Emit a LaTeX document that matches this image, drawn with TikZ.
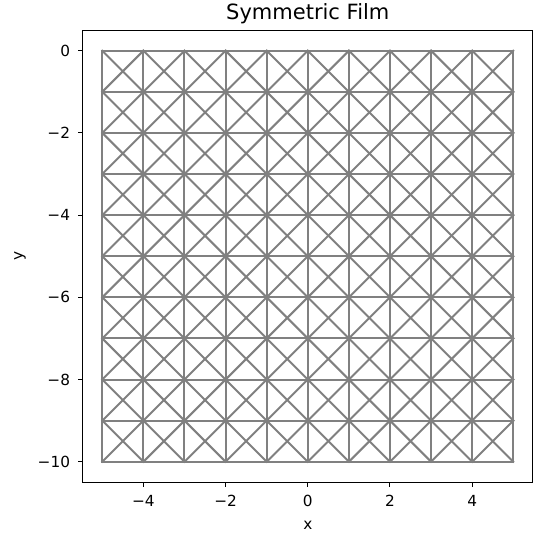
\documentclass[tikz,border=0pt]{standalone}
\usepackage{fontspec}
\setmainfont{DejaVu Sans}
\definecolor{meshgray}{RGB}{128,128,128}
\tikzset{
  mesh/.style={meshgray, line width=2pt, line cap=rect},
  ticklabel/.style={font=\fontsize{15.3}{18}\selectfont, inner sep=0pt},
}

\begin{document}
\begin{tikzpicture}[x=41.1pt, y=41.1pt]
    \useasboundingbox (-7.489,1.234) rectangle (5.504,-11.783);
    % film mesh
    \foreach \i in {0,...,10} {
        \draw[mesh] (-5,-\i) -- (5,-\i);
        \draw[mesh] (\i-5,0) -- (\i-5,-10);
    }
    \foreach \i in {-5,...,4} \foreach \j in {0,...,9} {
        \draw[mesh] (\i,-\j) -- (\i+1,-\j-1);
        \draw[mesh] (\i+1,-\j) -- (\i,-\j-1);
    }
    % axes
    \draw[line width=1pt] (-5.49,0.5) rectangle (5.455,-10.5);
    \foreach \x/\lbl in {-4/−4, -2/−2, 0/0, 2/2, 4/4} {
        \draw[line width=1pt] (\x,-10.5) -- ++(0,-0.105);
        \node[ticklabel] (xt\x) at (\x,-10.956) {\lbl};
    }
    \foreach \y/\lbl in {0/0, -2/−2, -4/−4, -6/−6, -8/−8, -10/−10} {
        \draw[line width=1pt] (-5.49,\y) -- ++(-0.105,0);
        \node[ticklabel, anchor=east] (yt\y) at (-5.78,\y) {\lbl};
    }
    \node[ticklabel] (xlabel) at (0,-11.54) {x};
    \node[ticklabel, rotate=90] (ylabel) at (-7.0,-5) {y};
    \node[inner sep=0pt, font=\fontsize{21}{25}\selectfont] (title) at (0,0.893) {Symmetric Film};
\end{tikzpicture}
\end{document}
